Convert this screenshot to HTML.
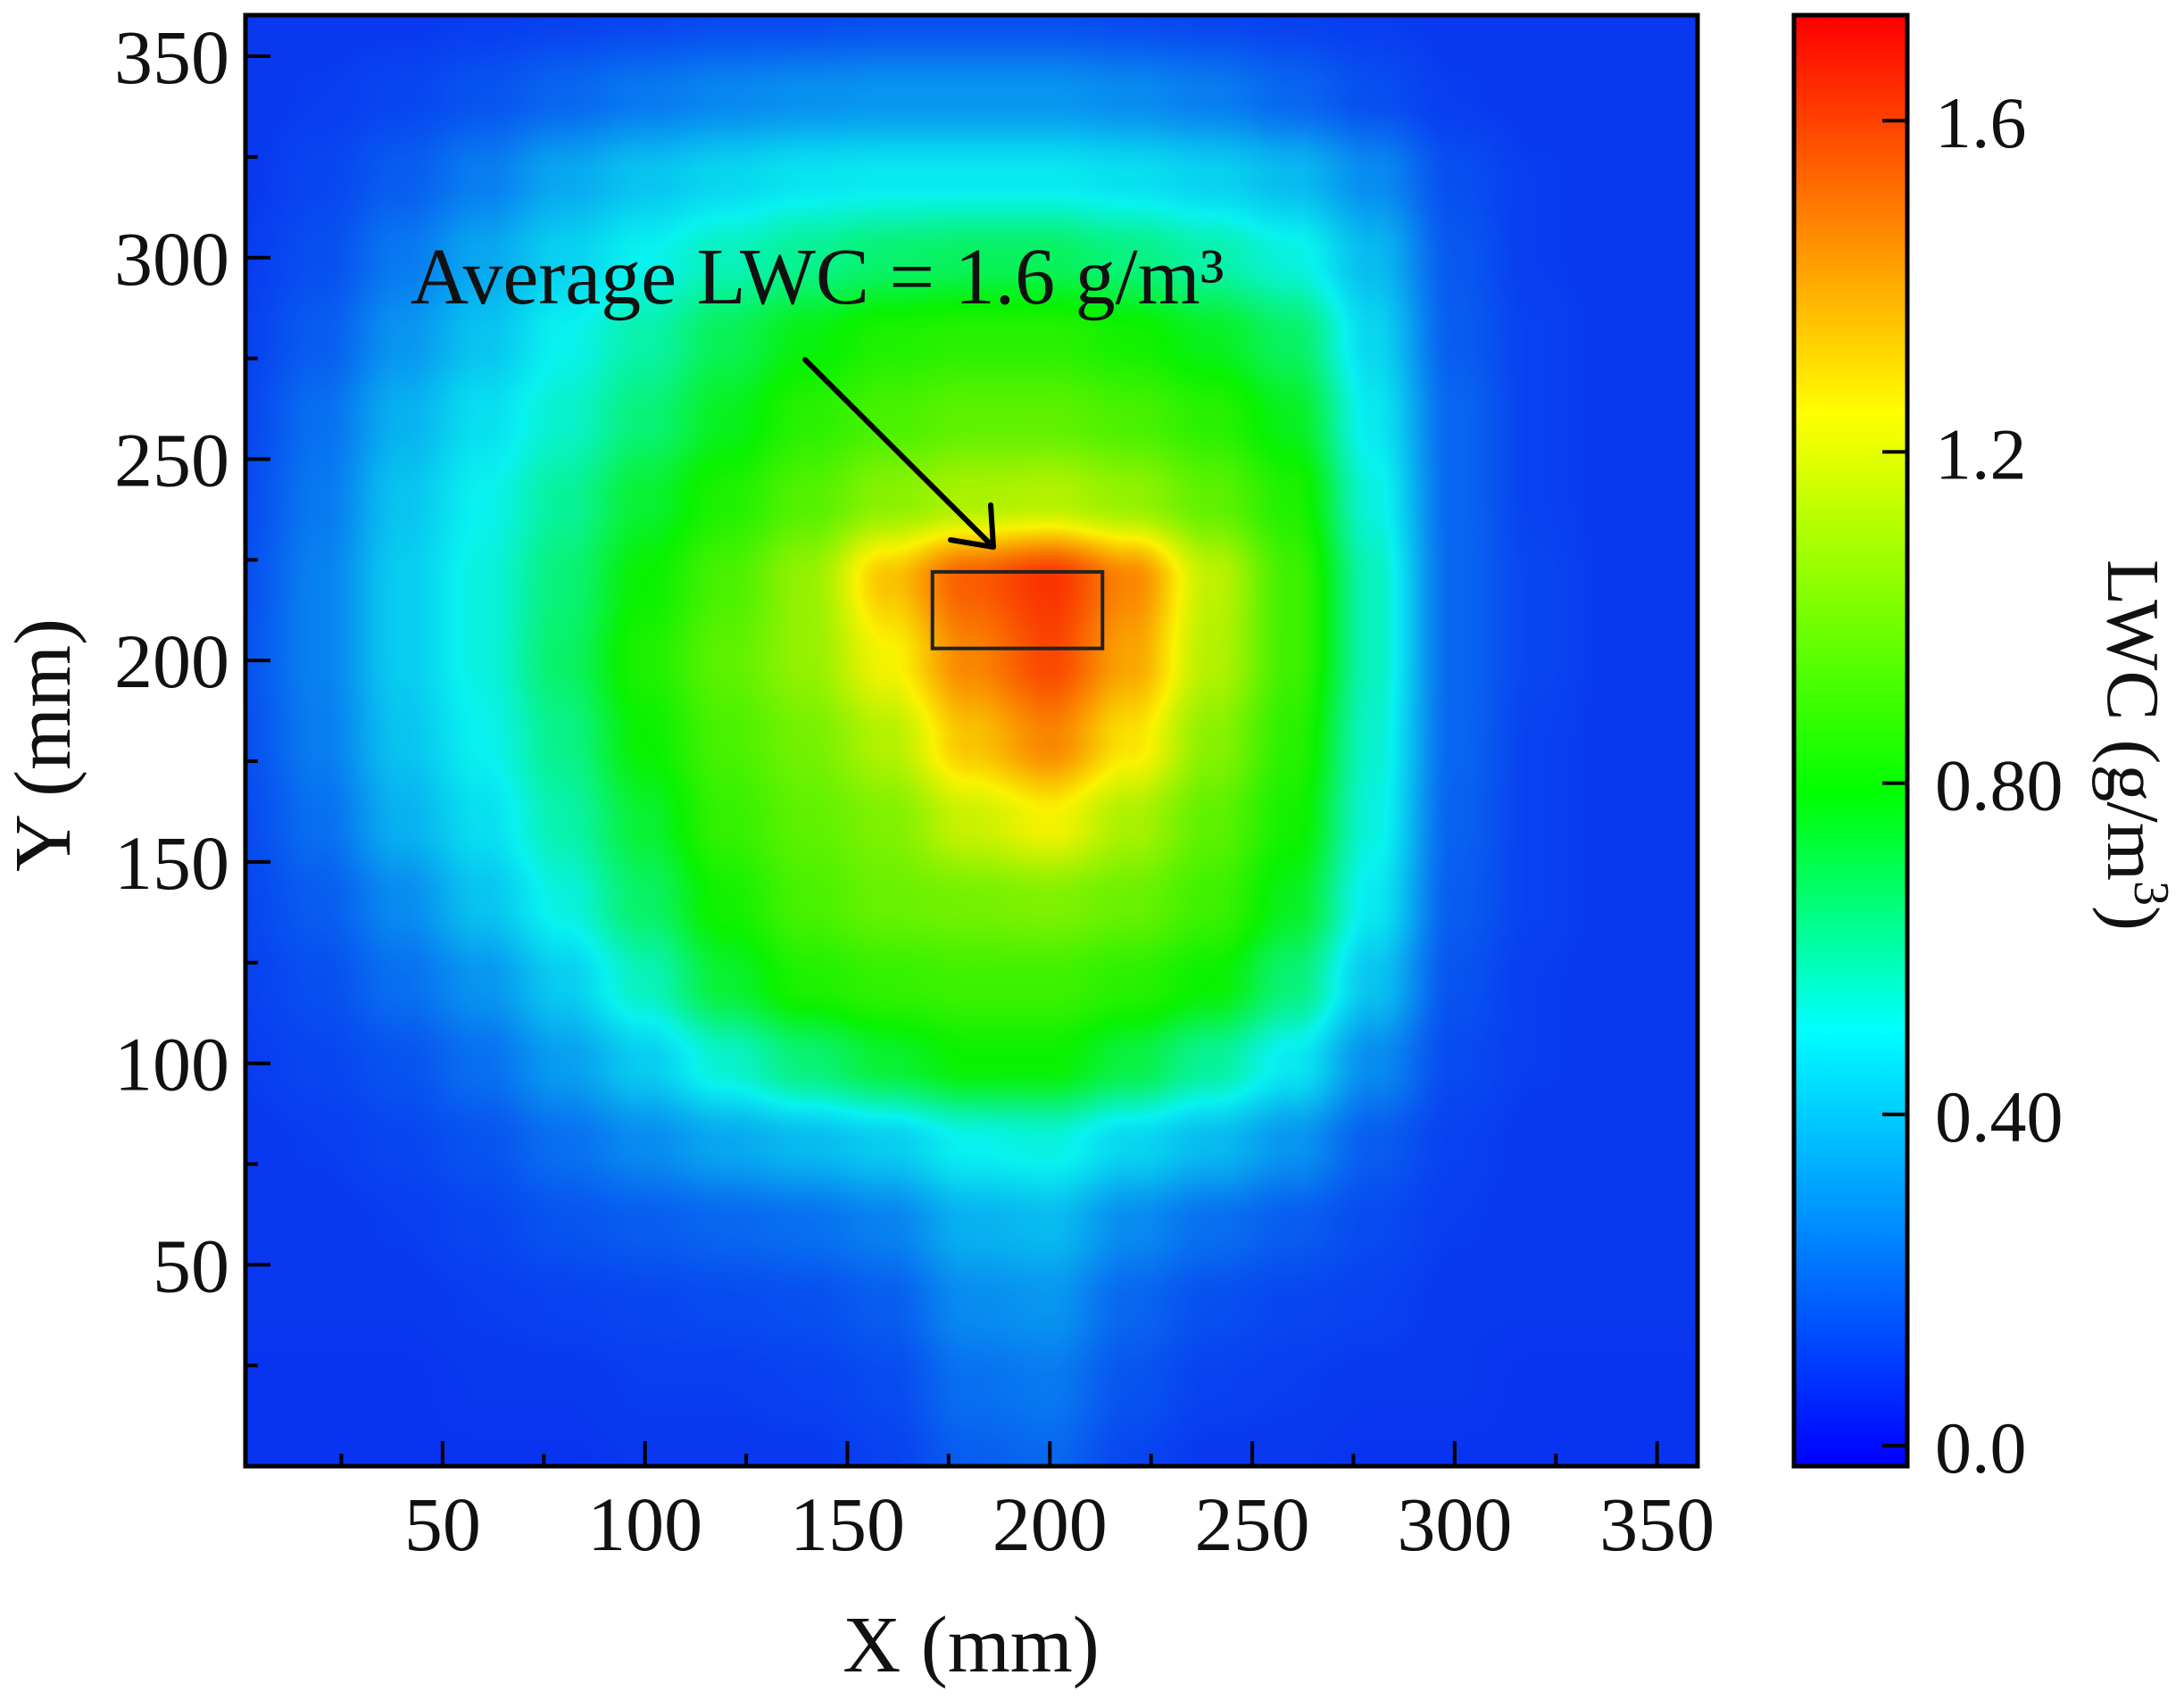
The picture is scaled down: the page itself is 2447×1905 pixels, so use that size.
<!DOCTYPE html>
<html><head><meta charset="utf-8"><style>
html,body{margin:0;padding:0;background:#fff;width:2447px;height:1905px;overflow:hidden}
#heat{position:absolute;left:275px;top:17px}
#ov{position:absolute;left:0;top:0}
text{font-family:"Liberation Serif",serif;fill:#111}
</style></head><body>
<canvas id="heat" width="1627" height="1626"></canvas>
<svg id="ov" width="2447" height="1905">
<defs><linearGradient id="cbg" x1="0" y1="1" x2="0" y2="0"></linearGradient></defs>
<g id="axes"></g>
</svg>
<script>
// ---- data ----
const xGrid=[0,20,40,60,80,100,120,140,160,180,200,220,240,260,280,300,320,340,360];
const yGrid=[360,340,320,300,280,260,240,220,200,180,160,140,120,100,80,60,40,20,0];
const lwc=[
[.12,.12,.12,.13,.14,.15,.16,.16,.17,.17,.17,.16,.15,.14,.13,.12,.12,.12,.12],
[.12,.13,.15,.18,.22,.26,.29,.31,.32,.32,.32,.30,.27,.22,.17,.13,.12,.12,.12],
[.12,.15,.20,.27,.36,.42,.46,.49,.50,.50,.50,.48,.45,.40,.30,.17,.13,.12,.12],
[.13,.17,.26,.36,.45,.52,.58,.63,.67,.69,.69,.65,.60,.54,.40,.19,.13,.12,.12],
[.14,.20,.32,.42,.52,.60,.70,.78,.84,.86,.86,.82,.76,.68,.46,.20,.14,.12,.12],
[.15,.24,.38,.48,.56,.66,.76,.86,.92,.96,.96,.92,.86,.76,.50,.22,.14,.12,.12],
[.16,.26,.42,.52,.62,.74,.84,.94,1.04,1.10,1.12,1.06,.96,.84,.54,.22,.14,.12,.12],
[.17,.28,.44,.54,.66,.80,.92,1.06,1.34,1.54,1.62,1.46,1.14,.90,.58,.22,.15,.12,.12],
[.18,.28,.44,.54,.68,.84,.96,1.06,1.24,1.46,1.58,1.40,1.12,.90,.58,.22,.15,.12,.12],
[.17,.27,.42,.52,.64,.80,.92,1.00,1.12,1.34,1.46,1.28,1.04,.86,.56,.22,.14,.12,.12],
[.16,.24,.38,.48,.60,.74,.88,.96,1.02,1.16,1.24,1.10,.96,.82,.54,.21,.14,.12,.12],
[.15,.20,.30,.42,.54,.68,.82,.92,.98,1.00,1.02,.98,.90,.76,.50,.20,.14,.12,.12],
[.14,.17,.24,.32,.44,.58,.74,.84,.88,.90,.90,.86,.80,.66,.42,.18,.13,.12,.12],
[.13,.15,.18,.24,.34,.44,.56,.66,.74,.80,.80,.72,.62,.50,.30,.16,.13,.12,.12],
[.12,.13,.15,.18,.24,.30,.36,.40,.44,.52,.54,.46,.40,.32,.20,.14,.12,.12,.12],
[.12,.12,.13,.15,.18,.20,.22,.24,.28,.38,.40,.30,.24,.20,.16,.13,.12,.12,.12],
[.12,.12,.12,.13,.14,.15,.16,.17,.20,.30,.32,.22,.17,.15,.14,.12,.12,.12,.12],
[.11,.11,.11,.12,.12,.13,.13,.14,.16,.24,.26,.18,.14,.13,.12,.12,.11,.11,.11],
[.11,.11,.11,.11,.11,.12,.12,.12,.14,.20,.22,.15,.12,.12,.11,.11,.11,.11,.11]];
const cmapVals=[0,0.52,0.8,1.25,1.72];
const cmapCols=[[0,0,255],[0,255,255],[0,255,0],[255,255,0],[255,0,0]];
const xTicks=[50,100,150,200,250,300,350];
const yTicks=[50,100,150,200,250,300,350];
const cbTicks=[0,0.4,0.8,1.2,1.6];
const cbLabels=["0.0","0.40","0.80","1.2","1.6"];
const annotX=[171,213], annotY=[203,222];

// ---- scales ----
const PL=275,PR=1902,PT=17,PB=1643;
const X0=1.3,X1=360,Y0=0,Y1=360.2;
const sx=v=>PL+(v-X0)/(X1-X0)*(PR-PL);
const sy=v=>PB-(v-Y0)/(Y1-Y0)*(PB-PT);
const CL=2010,CR=2137,CMIN=0,CMAX=1.725;
const sc=v=>1620-(v-CMIN)*928;

function cmap(v){
  if(v<=cmapVals[0])return cmapCols[0];
  for(let i=1;i<cmapVals.length;i++){
    if(v<=cmapVals[i]){const t=(v-cmapVals[i-1])/(cmapVals[i]-cmapVals[i-1]);
      const a=cmapCols[i-1],b=cmapCols[i];return [a[0]+(b[0]-a[0])*t,a[1]+(b[1]-a[1])*t,a[2]+(b[2]-a[2])*t];}
  }
  return cmapCols[cmapCols.length-1];
}
function field(xm,ym){
  const nx=xGrid.length,ny=yGrid.length;
  let fx=(xm-xGrid[0])/(xGrid[nx-1]-xGrid[0])*(nx-1);
  let fy=(yGrid[0]-ym)/(yGrid[0]-yGrid[ny-1])*(ny-1);
  fx=Math.max(0,Math.min(nx-1.0001,fx));fy=Math.max(0,Math.min(ny-1.0001,fy));
  const i=Math.floor(fx),j=Math.floor(fy);let tx=fx-i,ty=fy-j;
  tx=tx*tx*(3-2*tx);ty=ty*ty*(3-2*ty);
  const a=lwc[j][i],b=lwc[j][i+1],c=lwc[j+1][i],d=lwc[j+1][i+1];
  return (a*(1-tx)+b*tx)*(1-ty)+(c*(1-tx)+d*tx)*ty;
}
// heatmap
const cv=document.getElementById('heat'),ctx=cv.getContext('2d');
const W=cv.width,H=cv.height,img=ctx.createImageData(W,H);
for(let py=0;py<H;py++){
  const ym=Y1-(py+0.5)/H*(Y1-Y0);
  for(let px=0;px<W;px++){
    const xm=X0+(px+0.5)/W*(X1-X0);
    const c=cmap(field(xm,ym));const k=(py*W+px)*4;
    img.data[k]=c[0]*0.95+8;img.data[k+1]=c[1]*0.95;img.data[k+2]=c[2]*0.94;img.data[k+3]=255;
  }
}
ctx.putImageData(img,0,0);

// overlay
const NS='http://www.w3.org/2000/svg';
const g=document.getElementById('axes');
function mk(tag,attrs,parent){const e=document.createElementNS(NS,tag);for(const k in attrs)e.setAttribute(k,attrs[k]);(parent||g).appendChild(e);return e;}
const grad=document.getElementById('cbg');
for(let i=0;i<cmapVals.length;i++){
  mk('stop',{offset:(cmapVals[i]-CMIN)/(CMAX-CMIN),'stop-color':'rgb('+cmapCols[i].join(',')+')'},grad);
}
const cbar=mk('rect',{x:CL,y:PT,width:CR-CL,height:PB-PT,fill:'url(#cbg)',stroke:'#000','stroke-width':5});


const frame=mk('rect',{x:PL,y:PT,width:PR-PL,height:PB-PT,fill:'none',stroke:'#000','stroke-width':5});


for(let v=25;v<=350;v+=25){
  const major=v%50===0;const x=sx(v);
  const t=mk('line',{x1:x,x2:x,y1:PB,y2:PB-(major?28:14),stroke:'#000','stroke-width':4});
  
  
}
xTicks.forEach(v=>{
  const t=mk('text',{x:sx(v),y:1737,'font-size':86,'text-anchor':'middle'});t.textContent=v;
  
  
});
for(let v=25;v<=350;v+=25){
  const major=v%50===0;const y=sy(v);
  const t=mk('line',{x1:PL,x2:PL+(major?28:14),y1:y,y2:y,stroke:'#000','stroke-width':4});
  
  
}
yTicks.forEach(v=>{
  const t=mk('text',{x:257,y:sy(v)+30,'font-size':86,'text-anchor':'end'});t.textContent=v;
  
  
});
cbTicks.forEach((v,i)=>{
  const y=sc(v);
  const t=mk('line',{x1:CR,x2:CR-28,y1:y,y2:y,stroke:'#000','stroke-width':4});
  
  
  const l=mk('text',{x:2168,y:y+30,'font-size':82});l.textContent=cbLabels[i];
  
  
});
const xt=mk('text',{x:1088,y:1873,'font-size':90,'text-anchor':'middle'});xt.textContent='X (mm)';


const yt=mk('text',{x:0,y:0,'font-size':90,'text-anchor':'middle',transform:'translate(78,835) rotate(-90)'});yt.textContent='Y (mm)';


const ct=mk('text',{x:0,y:0,'font-size':84,'text-anchor':'middle',transform:'translate(2362,835) rotate(90)'});
ct.innerHTML='LWC (g/m<tspan dy="-30" font-size="56">3</tspan><tspan dy="30">)</tspan>';


const at=mk('text',{x:460,y:340,'font-size':90});at.textContent='Average LWC = 1.6 g/m³';


const ar=mk('path',{d:'M902,403 L1113,613 M1113,613 L1065,605 M1113,613 L1110,566',fill:'none',stroke:'#000','stroke-width':6,'stroke-linecap':'round'});


const box=mk('rect',{x:sx(annotX[0]),y:sy(annotY[1]),width:sx(annotX[1])-sx(annotX[0]),height:sy(annotY[0])-sy(annotY[1]),fill:'none',stroke:'#222','stroke-width':4});


</script>
</body></html>
